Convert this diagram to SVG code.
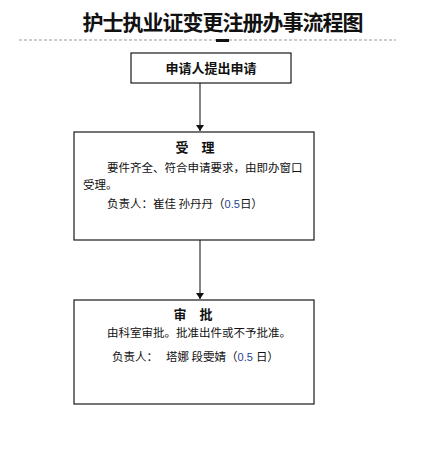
<svg xmlns="http://www.w3.org/2000/svg" width="448" height="450" viewBox="0 0 448 450">
<style>
.box{fill:#fff;stroke:#1a1a1a;stroke-width:1.2}
.t{font-family:"Noto Sans CJK SC","Liberation Sans",sans-serif;fill:#111}
.b{font-weight:bold;font-size:13px}
.n{font-size:11.5px}
.num{font-family:"Liberation Sans","Noto Sans CJK SC",sans-serif;fill:#1f3f8f;font-size:11px}
.line{stroke:#333;stroke-width:1.2;fill:none}
</style>
<defs>
<marker id="arr" markerWidth="8" markerHeight="8" refX="6" refY="4" orient="auto" markerUnits="userSpaceOnUse">
<path d="M0,0 L6,4 L0,8 Z" fill="#111"/>
</marker>
</defs>
<rect width="448" height="450" fill="#fff"/>
<g id="title">
<text class="t" x="223" y="30" text-anchor="middle" font-size="21" font-weight="bold" textLength="281" lengthAdjust="spacing">护士执业证变更注册办事流程图</text>
<line x1="19" y1="40" x2="396" y2="40" stroke="#999" stroke-width="1" stroke-dasharray="3,2"/>
<rect x="216" y="39" width="13" height="3" fill="#111"/>
</g>
<g id="connectors">
<line class="line" x1="200" y1="83" x2="200" y2="131" marker-end="url(#arr)"/>
<line class="line" x1="200" y1="240" x2="200" y2="299" marker-end="url(#arr)"/>
</g>
<g id="node-apply">
<rect class="box" x="131" y="53" width="160" height="30"/>
<text class="t b" x="211" y="73" text-anchor="middle">申请人提出申请</text>
</g>
<g id="node-accept">
<rect class="box" x="74" y="132" width="240" height="108"/>
<text class="t b" x="195" y="152" text-anchor="middle">受<tspan dx="13">理</tspan></text>
<text class="t n" x="107" y="172">要件齐全、符合申请要求，由即办窗口</text>
<text class="t n" x="83" y="189">受理。</text>
<text class="t n" x="107" y="208">负责人：崔佳 孙丹丹（<tspan class="num">0.5</tspan>日）</text>
</g>
<g id="node-approve">
<rect class="box" x="74" y="300" width="240" height="104"/>
<text class="t b" x="193" y="319" text-anchor="middle">审<tspan dx="13">批</tspan></text>
<text class="t n" x="107" y="337">由科室审批。批准出件或不予批准。</text>
<text class="t n" x="112" y="361">负责人：<tspan dx="8">塔娜 段雯婧（</tspan><tspan class="num">0.5</tspan><tspan dx="3">日）</tspan></text>
</g>
</svg>
